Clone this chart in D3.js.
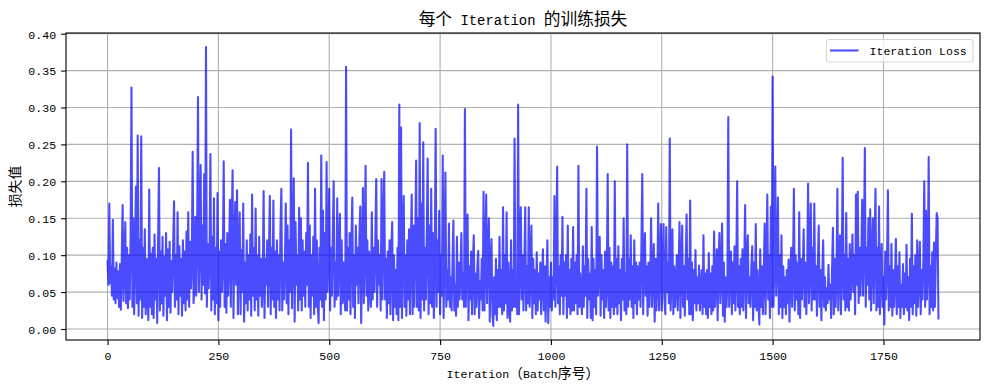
<!DOCTYPE html>
<meta charset="utf-8">

<style>
body { margin: 0; background: #fff; }
</style>

<svg class="chart"></svg>

<script src="https://d3js.org/d3.v7.min.js"></script>
<script>

  var chartTitle  = "每个 Iteration 的训练损失";
  var xLabel      = "Iteration（Batch序号）";
  var yLabel      = "损失值";
  var legendLabel = "Iteration Loss";

  var totalIterations = 1875;
  var sampleStep      = 2;

  var xTicks = [0, 250, 500, 750, 1000, 1250, 1500, 1750];
  var yTicks = [0.00, 0.05, 0.10, 0.15, 0.20, 0.25, 0.30, 0.35, 0.40];

  // loss every 2nd iteration, one row = 50 iterations
  var lossValues = [
    0.093, 0.060, 0.170, 0.062, 0.085, 0.045, 0.148, 0.040, 0.082, 0.035, 0.090, 0.042, 0.078, 0.030, 0.088, 0.026, 0.095, 0.168, 0.038, 0.080, 0.145, 0.035, 0.110, 0.028, 0.100,
    0.040, 0.125, 0.327, 0.030, 0.150, 0.020, 0.105, 0.193, 0.035, 0.262, 0.018, 0.120, 0.040, 0.261, 0.015, 0.110, 0.030, 0.135, 0.020, 0.095, 0.045, 0.012, 0.189, 0.030, 0.102,
    0.020, 0.110, 0.015, 0.128, 0.040, 0.095, 0.008, 0.120, 0.218, 0.025, 0.105, 0.035, 0.125, 0.018, 0.098, 0.045, 0.130, 0.012, 0.108, 0.030, 0.118, 0.022, 0.092, 0.050, 0.115,
    0.173, 0.030, 0.100, 0.040, 0.158, 0.020, 0.112, 0.045, 0.095, 0.018, 0.120, 0.035, 0.105, 0.025, 0.132, 0.040, 0.158, 0.030, 0.118, 0.055, 0.090, 0.240, 0.035, 0.060, 0.152,
    0.045, 0.130, 0.314, 0.050, 0.120, 0.222, 0.040, 0.140, 0.060, 0.210, 0.048, 0.382, 0.030, 0.115, 0.055, 0.100, 0.237, 0.025, 0.125, 0.040, 0.177, 0.020, 0.110, 0.035, 0.184,
    0.012, 0.105, 0.030, 0.120, 0.050, 0.095, 0.227, 0.030, 0.115, 0.022, 0.130, 0.045, 0.100, 0.175, 0.030, 0.140, 0.215, 0.015, 0.110, 0.172, 0.060, 0.188, 0.020, 0.105, 0.158,
    0.020, 0.107, 0.050, 0.170, 0.010, 0.090, 0.035, 0.120, 0.025, 0.100, 0.040, 0.128, 0.018, 0.182, 0.045, 0.110, 0.025, 0.163, 0.040, 0.100, 0.018, 0.125, 0.045, 0.095, 0.030,
    0.060, 0.187, 0.015, 0.095, 0.060, 0.120, 0.030, 0.105, 0.180, 0.020, 0.110, 0.040, 0.174, 0.030, 0.105, 0.015, 0.120, 0.040, 0.100, 0.025, 0.135, 0.190, 0.025, 0.090, 0.040,
    0.090, 0.170, 0.035, 0.140, 0.020, 0.120, 0.050, 0.270, 0.028, 0.115, 0.204, 0.010, 0.145, 0.060, 0.100, 0.025, 0.164, 0.040, 0.150, 0.025, 0.120, 0.045, 0.105, 0.030, 0.130,
    0.060, 0.225, 0.030, 0.140, 0.015, 0.100, 0.045, 0.125, 0.020, 0.190, 0.030, 0.120, 0.035, 0.008, 0.110, 0.040, 0.235, 0.030, 0.160, 0.012, 0.130, 0.040, 0.226, 0.050, 0.110,
    0.190, 0.025, 0.110, 0.045, 0.130, 0.200, 0.030, 0.090, 0.040, 0.177, 0.045, 0.100, 0.156, 0.020, 0.120, 0.035, 0.090, 0.050, 0.025, 0.355, 0.025, 0.110, 0.040, 0.130, 0.020,
    0.120, 0.178, 0.030, 0.100, 0.015, 0.140, 0.060, 0.110, 0.035, 0.125, 0.166, 0.008, 0.090, 0.191, 0.035, 0.120, 0.221, 0.045, 0.120, 0.025, 0.105, 0.050, 0.030, 0.158, 0.040,
    0.110, 0.050, 0.125, 0.203, 0.030, 0.120, 0.060, 0.100, 0.025, 0.203, 0.040, 0.130, 0.213, 0.040, 0.095, 0.015, 0.105, 0.035, 0.120, 0.020, 0.110, 0.145, 0.012, 0.100, 0.030,
    0.080, 0.020, 0.110, 0.012, 0.304, 0.030, 0.273, 0.015, 0.120, 0.180, 0.030, 0.100, 0.018, 0.120, 0.040, 0.135, 0.020, 0.110, 0.182, 0.020, 0.140, 0.030, 0.120, 0.228, 0.030,
    0.150, 0.025, 0.279, 0.015, 0.170, 0.040, 0.253, 0.025, 0.110, 0.040, 0.130, 0.231, 0.020, 0.140, 0.035, 0.190, 0.030, 0.130, 0.015, 0.100, 0.271, 0.030, 0.120, 0.050, 0.160,
    0.020, 0.100, 0.045, 0.235, 0.015, 0.110, 0.212, 0.030, 0.080, 0.040, 0.143, 0.030, 0.070, 0.025, 0.090, 0.147, 0.025, 0.060, 0.018, 0.125, 0.030, 0.090, 0.040, 0.075, 0.130,
    0.040, 0.075, 0.030, 0.298, 0.030, 0.100, 0.155, 0.012, 0.085, 0.040, 0.105, 0.020, 0.090, 0.127, 0.020, 0.075, 0.030, 0.085, 0.106, 0.015, 0.065, 0.040, 0.095, 0.025, 0.186,
    0.025, 0.090, 0.182, 0.035, 0.110, 0.150, 0.010, 0.085, 0.122, 0.020, 0.004, 0.070, 0.020, 0.095, 0.012, 0.080, 0.030, 0.125, 0.030, 0.080, 0.020, 0.165, 0.025, 0.100, 0.035,
    0.158, 0.015, 0.090, 0.030, 0.010, 0.120, 0.025, 0.080, 0.030, 0.258, 0.030, 0.070, 0.020, 0.304, 0.020, 0.100, 0.165, 0.040, 0.100, 0.025, 0.090, 0.165, 0.025, 0.085, 0.035,
    0.165, 0.030, 0.085, 0.140, 0.015, 0.095, 0.035, 0.080, 0.020, 0.104, 0.025, 0.075, 0.040, 0.090, 0.020, 0.070, 0.108, 0.025, 0.085, 0.010, 0.065, 0.120, 0.008, 0.070, 0.030,
    0.090, 0.025, 0.070, 0.040, 0.180, 0.030, 0.095, 0.220, 0.035, 0.085, 0.020, 0.100, 0.045, 0.152, 0.020, 0.090, 0.045, 0.100, 0.015, 0.140, 0.030, 0.080, 0.020, 0.095, 0.025,
    0.138, 0.025, 0.090, 0.035, 0.100, 0.020, 0.221, 0.030, 0.075, 0.040, 0.020, 0.112, 0.030, 0.085, 0.045, 0.190, 0.015, 0.095, 0.040, 0.075, 0.015, 0.138, 0.012, 0.095, 0.030,
    0.080, 0.020, 0.247, 0.045, 0.090, 0.125, 0.018, 0.100, 0.040, 0.080, 0.015, 0.105, 0.030, 0.060, 0.210, 0.025, 0.110, 0.015, 0.090, 0.030, 0.085, 0.020, 0.200, 0.030, 0.095,
    0.020, 0.112, 0.035, 0.080, 0.012, 0.095, 0.040, 0.150, 0.025, 0.075, 0.020, 0.250, 0.030, 0.095, 0.040, 0.127, 0.030, 0.085, 0.015, 0.120, 0.035, 0.090, 0.020, 0.085, 0.040,
    0.090, 0.030, 0.110, 0.210, 0.020, 0.085, 0.130, 0.045, 0.085, 0.018, 0.090, 0.030, 0.070, 0.150, 0.030, 0.080, 0.115, 0.010, 0.095, 0.025, 0.060, 0.170, 0.025, 0.090, 0.142,
    0.025, 0.080, 0.142, 0.040, 0.020, 0.138, 0.050, 0.090, 0.035, 0.258, 0.025, 0.070, 0.135, 0.020, 0.085, 0.030, 0.060, 0.100, 0.025, 0.080, 0.145, 0.015, 0.085, 0.140, 0.030,
    0.085, 0.018, 0.090, 0.155, 0.040, 0.095, 0.020, 0.174, 0.020, 0.090, 0.012, 0.080, 0.035, 0.107, 0.025, 0.070, 0.035, 0.086, 0.025, 0.060, 0.080, 0.020, 0.127, 0.030, 0.075,
    0.020, 0.080, 0.015, 0.103, 0.030, 0.075, 0.020, 0.085, 0.025, 0.132, 0.030, 0.065, 0.108, 0.012, 0.090, 0.130, 0.035, 0.080, 0.143, 0.018, 0.090, 0.010, 0.070, 0.030, 0.065,
    0.287, 0.030, 0.080, 0.105, 0.020, 0.090, 0.035, 0.112, 0.025, 0.080, 0.200, 0.030, 0.085, 0.020, 0.095, 0.030, 0.108, 0.025, 0.085, 0.168, 0.015, 0.090, 0.127, 0.035, 0.070,
    0.030, 0.085, 0.112, 0.012, 0.090, 0.030, 0.142, 0.025, 0.080, 0.040, 0.006, 0.108, 0.030, 0.085, 0.020, 0.075, 0.143, 0.020, 0.090, 0.182, 0.040, 0.100, 0.015, 0.166, 0.030,
    0.342, 0.030, 0.100, 0.220, 0.045, 0.090, 0.178, 0.020, 0.100, 0.030, 0.127, 0.015, 0.085, 0.030, 0.070, 0.020, 0.080, 0.035, 0.094, 0.010, 0.075, 0.110, 0.030, 0.085, 0.190,
    0.025, 0.100, 0.040, 0.090, 0.020, 0.158, 0.015, 0.095, 0.040, 0.080, 0.135, 0.030, 0.090, 0.020, 0.085, 0.197, 0.035, 0.100, 0.170, 0.025, 0.110, 0.040, 0.170, 0.040, 0.085,
    0.018, 0.090, 0.140, 0.030, 0.080, 0.012, 0.075, 0.120, 0.030, 0.070, 0.025, 0.055, 0.035, 0.087, 0.040, 0.060, 0.015, 0.080, 0.137, 0.020, 0.095, 0.030, 0.070, 0.190, 0.025,
    0.080, 0.127, 0.020, 0.090, 0.232, 0.040, 0.100, 0.025, 0.157, 0.030, 0.095, 0.025, 0.115, 0.040, 0.080, 0.128, 0.050, 0.100, 0.020, 0.182, 0.060, 0.186, 0.035, 0.110, 0.045,
    0.100, 0.175, 0.045, 0.120, 0.245, 0.030, 0.110, 0.060, 0.150, 0.040, 0.162, 0.025, 0.100, 0.150, 0.035, 0.120, 0.190, 0.025, 0.110, 0.030, 0.166, 0.020, 0.080, 0.115, 0.030,
    0.070, 0.006, 0.105, 0.040, 0.090, 0.188, 0.025, 0.085, 0.030, 0.115, 0.018, 0.080, 0.030, 0.070, 0.122, 0.020, 0.085, 0.030, 0.104, 0.015, 0.060, 0.030, 0.088, 0.020, 0.075,
    0.030, 0.114, 0.025, 0.070, 0.012, 0.095, 0.030, 0.156, 0.020, 0.085, 0.035, 0.100, 0.018, 0.120, 0.030, 0.075, 0.118, 0.020, 0.080, 0.040, 0.095, 0.200, 0.030, 0.160, 0.040,
    0.090, 0.233, 0.020, 0.085, 0.030, 0.104, 0.025, 0.117, 0.030, 0.095, 0.157, 0.150, 0.013
  ];

  var outerWidth  = 989;
  var outerHeight = 390;

  var margin = {
    top: 33,
    right: 9,
    bottom: 50,
    left: 66
  };

  var width  = outerWidth - margin.left - margin.right;
  var height = outerHeight - margin.top - margin.bottom;

  var lineColor = "#0000ff";
  var gridColor = "#b0b0b0";
  var tickSize  = 4.9;
  var cjkFont   = "'Noto Sans CJK SC', sans-serif";
  var latinFont = "'Liberation Mono', 'DejaVu Sans Mono', monospace";

  var points = lossValues.map(function(v, i) {
    return { iter: i * sampleStep, loss: v };
  });

  var xPad = (totalIterations - 1) * 0.05;
  var yMin = d3.min(lossValues);
  var yMax = d3.max(lossValues);
  var yPad = (yMax - yMin) * 0.05;

  var xScale = d3.scaleLinear()
      .domain([-xPad, totalIterations - 1 + xPad])
      .range([0, width]);

  var yScale = d3.scaleLinear()
      .domain([yMin - yPad, yMax + yPad])
      .range([height, 0]);

  var svg = d3.select(".chart")
      .attr("width", outerWidth)
      .attr("height", outerHeight)
      .style("display", "block")
      .style("background", "#fff");

  var chart = svg.append("g")
      .attr("transform", "translate(" + margin.left + "," + margin.top + ")");

  // SimHei-like text: half width latin, full width CJK
  function mixedText(sel, str, size) {
    var runs = str.match(/[\u3000-\u9fff\uff00-\uffef]+|[^\u3000-\u9fff\uff00-\uffef]+/g);
    runs.forEach(function(run) {
      var wide = /[\u3000-\u9fff\uff00-\uffef]/.test(run);
      sel.append("tspan")
          .style("font-family", wide ? cjkFont : latinFont)
          .style("font-size", (wide ? size : size * 0.5 / 0.6) + "px")
          .style("white-space", "pre")
          .text(run);
    });
    return sel;
  }

  // grid
  chart.append("g")
      .attr("class", "grid")
    .selectAll("line.gx")
      .data(xTicks)
    .enter().append("line")
      .attr("x1", function(d) { return xScale(d); })
      .attr("x2", function(d) { return xScale(d); })
      .attr("y1", 0)
      .attr("y2", height)
      .attr("stroke", gridColor)
      .attr("stroke-width", 1.1);

  chart.select(".grid")
    .selectAll("line.gy")
      .data(yTicks)
    .enter().append("line")
      .attr("class", "gy")
      .attr("x1", 0)
      .attr("x2", width)
      .attr("y1", function(d) { return yScale(d); })
      .attr("y2", function(d) { return yScale(d); })
      .attr("stroke", gridColor)
      .attr("stroke-width", 1.1);

  var line = d3.line()
      .x(function(d) { return xScale(d.iter); })
      .y(function(d) { return yScale(d.loss); });

  chart.append("path")
      .datum(points)
      .attr("d", line)
      .attr("fill", "none")
      .attr("stroke", lineColor)
      .attr("stroke-opacity", 0.7)
      .attr("stroke-width", 2.08)
      .attr("stroke-linejoin", "round");

  // axes
  var xAxis = chart.append("g")
      .attr("transform", "translate(0," + height + ")")
      .call(d3.axisBottom(xScale).tickValues(xTicks).tickSize(tickSize).tickPadding(5).tickFormat(d3.format("d")));

  var yAxis = chart.append("g")
      .call(d3.axisLeft(yScale).tickValues(yTicks).tickSize(tickSize).tickPadding(5).tickFormat(d3.format(".2f")));

  [xAxis, yAxis].forEach(function(ax) {
    ax.select(".domain").remove();
    ax.selectAll(".tick line").attr("stroke", "#000").attr("stroke-width", 1.1);
    ax.selectAll(".tick text")
        .attr("fill", "#000")
        .style("font-family", latinFont)
        .style("font-size", (13.9 * 0.5 / 0.6) + "px");
  });

  xAxis.selectAll(".tick text").attr("dy", null).attr("y", 20);
  yAxis.selectAll(".tick text").attr("dy", "0.38em");

  chart.append("rect")
      .attr("width", width)
      .attr("height", height)
      .attr("fill", "none")
      .attr("stroke", "#000")
      .attr("stroke-width", 1.1);

  // titles
  mixedText(svg.append("text")
      .attr("x", margin.left + width / 2)
      .attr("y", 24.5)
      .attr("text-anchor", "middle")
      .attr("fill", "#000"), chartTitle, 16.7);

  mixedText(svg.append("text")
      .attr("x", margin.left + width / 2)
      .attr("y", 378)
      .attr("text-anchor", "middle")
      .attr("fill", "#000"), xLabel, 13.9);

  mixedText(svg.append("text")
      .attr("transform", "translate(20," + (margin.top + height / 2) + ") rotate(-90)")
      .attr("text-anchor", "middle")
      .attr("fill", "#000"), yLabel, 13.9);

  // legend
  var legend = chart.append("g")
      .attr("transform", "translate(" + (width - 153.5) + ",6.5)");

  legend.append("rect")
      .attr("width", 146.5)
      .attr("height", 22.5)
      .attr("rx", 2.5)
      .attr("fill", "#fff")
      .attr("fill-opacity", 0.8)
      .attr("stroke", "#d6d6d6")
      .attr("stroke-width", 1.1);

  legend.append("line")
      .attr("x1", 3.5)
      .attr("x2", 32)
      .attr("y1", 11)
      .attr("y2", 11)
      .attr("stroke", lineColor)
      .attr("stroke-opacity", 0.7)
      .attr("stroke-width", 2.08);

  mixedText(legend.append("text")
      .attr("x", 43)
      .attr("y", 15.5)
      .attr("fill", "#000"), legendLabel, 13.9);

</script>
